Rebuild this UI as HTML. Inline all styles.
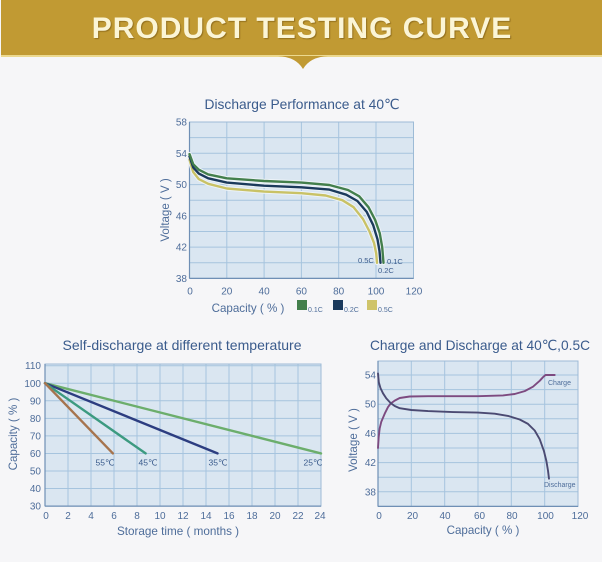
<!DOCTYPE html>
<html><head><meta charset="utf-8"><style>
html,body{margin:0;padding:0;background:#f6f6f8;}
svg{display:block;}
text{font-family:"Liberation Sans","DejaVu Sans",sans-serif;}
</style></head><body>
<svg width="602" height="562" viewBox="0 0 602 562" xmlns="http://www.w3.org/2000/svg">
<rect x="0" y="0" width="602" height="562" fill="#f6f6f8"/>
<!-- header -->
<rect x="1" y="0" width="601" height="56" fill="#c19a33"/>
<rect x="1" y="55" width="601" height="2" fill="#ecd98f"/>
<path d="M278,56 Q296,57 303,69 Q310,57 328,56 Z" fill="#c19a33"/>
<text x="302" y="38" text-anchor="middle" font-size="30" font-weight="bold" fill="#fbf5d6" letter-spacing="1" style="text-shadow:1px 1px 1px rgba(90,60,0,0.45)">PRODUCT TESTING CURVE</text>

<!-- ============ TOP CHART ============ -->
<text x="302" y="109" text-anchor="middle" font-size="14" fill="#3a5b8c" textLength="195" lengthAdjust="spacingAndGlyphs">Discharge Performance at 40℃</text>
<rect x="189.5" y="122" width="224" height="156.4" fill="#dae6f1"/>
<g stroke="#a6c4de" stroke-width="1">
<line x1="189.5" y1="137.6" x2="413.5" y2="137.6"/><line x1="189.5" y1="153.3" x2="413.5" y2="153.3"/>
<line x1="189.5" y1="168.9" x2="413.5" y2="168.9"/><line x1="189.5" y1="184.6" x2="413.5" y2="184.6"/>
<line x1="189.5" y1="200.2" x2="413.5" y2="200.2"/><line x1="189.5" y1="215.8" x2="413.5" y2="215.8"/>
<line x1="189.5" y1="231.5" x2="413.5" y2="231.5"/><line x1="189.5" y1="247.1" x2="413.5" y2="247.1"/>
<line x1="189.5" y1="262.8" x2="413.5" y2="262.8"/>
<line x1="226.8" y1="122" x2="226.8" y2="278.4"/><line x1="264.1" y1="122" x2="264.1" y2="278.4"/>
<line x1="301.4" y1="122" x2="301.4" y2="278.4"/><line x1="338.7" y1="122" x2="338.7" y2="278.4"/>
<line x1="376" y1="122" x2="376" y2="278.4"/>
</g>
<rect x="189.5" y="122" width="224" height="156.4" fill="none" stroke="#9dbbd6" stroke-width="1"/>
<line x1="189.5" y1="122" x2="189.5" y2="278.4" stroke="#6f8fb5" stroke-width="1.2"/>
<line x1="189.5" y1="278.4" x2="413.5" y2="278.4" stroke="#6f8fb5" stroke-width="1.2"/>
<g fill="none" stroke-width="4.4" stroke-linejoin="round" stroke-linecap="round" stroke="#edf3f8">
<polyline points="189.5,159.5 193.2,172 198.8,179.1 208.2,183.8 226.8,188.5 264.1,191.6 301.4,193.2 325.6,195.5 342.4,200.2 353.6,207.2 363,219 369.5,231.5 374.1,243.2 376.2,253.4 377,262.8"/>
<polyline points="189.5,156.4 193.2,167.4 198.8,173.6 208.2,178.3 226.8,182.6 264.1,185.7 301.4,187.3 329.4,189.6 346.2,194.7 357.4,201 366.7,211.9 373.2,225.2 377.5,239.3 379.5,251 380.5,262.8"/>
<polyline points="189.5,154.1 193.2,164.2 198.8,169.7 208.2,174.4 226.8,178.3 264.1,181 301.4,182.6 329.4,185 348,190 359.2,196.3 368.5,207.2 375.1,219.8 379.7,233 382.2,247.1 383.5,262.8"/>
</g>
<g fill="none" stroke-width="2.4" stroke-linejoin="round" stroke-linecap="round">
<polyline stroke="#c9c266" points="189.5,159.5 193.2,172 198.8,179.1 208.2,183.8 226.8,188.5 264.1,191.6 301.4,193.2 325.6,195.5 342.4,200.2 353.6,207.2 363,219 369.5,231.5 374.1,243.2 376.2,253.4 377,262.8"/>
<polyline stroke="#1b3a5c" points="189.5,156.4 193.2,167.4 198.8,173.6 208.2,178.3 226.8,182.6 264.1,185.7 301.4,187.3 329.4,189.6 346.2,194.7 357.4,201 366.7,211.9 373.2,225.2 377.5,239.3 379.5,251 380.5,262.8"/>
<polyline stroke="#437f4c" points="189.5,154.1 193.2,164.2 198.8,169.7 208.2,174.4 226.8,178.3 264.1,181 301.4,182.6 329.4,185 348,190 359.2,196.3 368.5,207.2 375.1,219.8 379.7,233 382.2,247.1 383.5,262.8"/>
</g>
<g font-size="10" fill="#4e6d9a" text-anchor="end">
<text x="187" y="125.5">58</text><text x="187" y="156.8">54</text><text x="187" y="188.1">50</text>
<text x="187" y="219.3">46</text><text x="187" y="250.6">42</text><text x="187" y="281.9">38</text>
</g>
<g font-size="10" fill="#4e6d9a" text-anchor="middle">
<text x="190" y="294.5">0</text><text x="226.8" y="294.5">20</text><text x="264.1" y="294.5">40</text>
<text x="301.4" y="294.5">60</text><text x="338.7" y="294.5">80</text><text x="376" y="294.5">100</text><text x="414" y="294.5">120</text>
</g>
<g font-size="7.5" fill="#3a5b8c">
<text x="358" y="263">0.5C</text><text x="387" y="264">0.1C</text><text x="378" y="273">0.2C</text>
</g>
<text transform="translate(169,210) rotate(-90)" text-anchor="middle" font-size="11.5" fill="#4e6d9a">Voltage ( V )</text>
<text x="248" y="312" text-anchor="middle" font-size="11.6" fill="#4e6d9a">Capacity ( % )</text>
<rect x="297" y="300" width="10" height="10" fill="#437f4c"/>
<text x="308" y="312" font-size="7" fill="#4e6d9a">0.1C</text>
<rect x="333" y="300" width="10" height="10" fill="#1b3a5c"/>
<text x="344" y="312" font-size="7" fill="#4e6d9a">0.2C</text>
<rect x="367" y="300" width="10" height="10" fill="#cfc46a"/>
<text x="378" y="312" font-size="7" fill="#4e6d9a">0.5C</text>

<!-- ============ BOTTOM LEFT ============ -->
<text x="182" y="350" text-anchor="middle" font-size="14" fill="#3a5b8c" textLength="239" lengthAdjust="spacingAndGlyphs">Self-discharge at different temperature</text>
<rect x="45" y="364" width="276" height="142.1" fill="#dae6f1"/>
<g stroke="#a6c4de" stroke-width="1">
<line x1="45" y1="365.7" x2="321" y2="365.7"/><line x1="45" y1="383.25" x2="321" y2="383.25"/>
<line x1="45" y1="400.8" x2="321" y2="400.8"/><line x1="45" y1="418.35" x2="321" y2="418.35"/>
<line x1="45" y1="435.9" x2="321" y2="435.9"/><line x1="45" y1="453.45" x2="321" y2="453.45"/>
<line x1="45" y1="471" x2="321" y2="471"/><line x1="45" y1="488.55" x2="321" y2="488.55"/>
<line x1="68" y1="364" x2="68" y2="506.1"/><line x1="91" y1="364" x2="91" y2="506.1"/>
<line x1="114" y1="364" x2="114" y2="506.1"/><line x1="137" y1="364" x2="137" y2="506.1"/>
<line x1="160" y1="364" x2="160" y2="506.1"/><line x1="183" y1="364" x2="183" y2="506.1"/>
<line x1="206" y1="364" x2="206" y2="506.1"/><line x1="229" y1="364" x2="229" y2="506.1"/>
<line x1="252" y1="364" x2="252" y2="506.1"/><line x1="275" y1="364" x2="275" y2="506.1"/>
<line x1="298" y1="364" x2="298" y2="506.1"/>
</g>
<rect x="45" y="364" width="276" height="142.1" fill="none" stroke="#9dbbd6" stroke-width="1"/>
<line x1="45" y1="364" x2="45" y2="506.1" stroke="#6f8fb5" stroke-width="1.2"/>
<line x1="45" y1="506.1" x2="321" y2="506.1" stroke="#6f8fb5" stroke-width="1.2"/>
<g stroke-width="2.4" stroke-linecap="round">
<line x1="45" y1="383.2" x2="321" y2="453.4" stroke="#6cae6c"/>
<line x1="45" y1="383.2" x2="217.5" y2="453.4" stroke="#2c3d80"/>
<line x1="45" y1="383.2" x2="145.6" y2="453.4" stroke="#3c9a80"/>
<line x1="45" y1="383.2" x2="112.9" y2="453.4" stroke="#a6744e"/>
</g>
<g font-size="8.5" fill="#3a5b8c" text-anchor="middle">
<text x="105" y="465.5">55℃</text><text x="148" y="465.5">45℃</text>
<text x="218" y="465.5">35℃</text><text x="313" y="465.5">25℃</text>
</g>
<g font-size="10" fill="#4e6d9a" text-anchor="end">
<text x="41" y="369.2">110</text><text x="41" y="386.8">100</text><text x="41" y="404.3">90</text>
<text x="41" y="421.9">80</text><text x="41" y="439.4">70</text><text x="41" y="457">60</text>
<text x="41" y="474.5">50</text><text x="41" y="492">40</text><text x="41" y="509.6">30</text>
</g>
<g font-size="10" fill="#4e6d9a" text-anchor="middle">
<text x="46" y="519">0</text><text x="68" y="519">2</text><text x="91" y="519">4</text>
<text x="114" y="519">6</text><text x="137" y="519">8</text><text x="160" y="519">10</text>
<text x="183" y="519">12</text><text x="206" y="519">14</text><text x="229" y="519">16</text>
<text x="252" y="519">18</text><text x="275" y="519">20</text><text x="298" y="519">22</text><text x="320" y="519">24</text>
</g>
<text transform="translate(17,434) rotate(-90)" text-anchor="middle" font-size="11.6" fill="#4e6d9a">Capacity ( % )</text>
<text x="178" y="535" text-anchor="middle" font-size="11.7" fill="#4e6d9a">Storage time ( months )</text>

<!-- ============ BOTTOM RIGHT ============ -->
<text x="480" y="350" text-anchor="middle" font-size="14" fill="#3a5b8c" textLength="220" lengthAdjust="spacingAndGlyphs">Charge and Discharge at 40℃,0.5C</text>
<rect x="378" y="361" width="200" height="145.4" fill="#dae6f1"/>
<g stroke="#a6c4de" stroke-width="1">
<line x1="378" y1="375" x2="578" y2="375"/><line x1="378" y1="389.6" x2="578" y2="389.6"/>
<line x1="378" y1="404.2" x2="578" y2="404.2"/><line x1="378" y1="418.8" x2="578" y2="418.8"/>
<line x1="378" y1="433.4" x2="578" y2="433.4"/><line x1="378" y1="448" x2="578" y2="448"/>
<line x1="378" y1="462.6" x2="578" y2="462.6"/><line x1="378" y1="477.2" x2="578" y2="477.2"/>
<line x1="378" y1="491.8" x2="578" y2="491.8"/>
<line x1="411.3" y1="361" x2="411.3" y2="506.4"/><line x1="444.7" y1="361" x2="444.7" y2="506.4"/>
<line x1="478" y1="361" x2="478" y2="506.4"/><line x1="511.3" y1="361" x2="511.3" y2="506.4"/>
<line x1="544.7" y1="361" x2="544.7" y2="506.4"/>
</g>
<rect x="378" y="361" width="200" height="145.4" fill="none" stroke="#9dbbd6" stroke-width="1"/>
<line x1="378" y1="361" x2="378" y2="506.4" stroke="#6f8fb5" stroke-width="1.2"/>
<line x1="378" y1="506.4" x2="578" y2="506.4" stroke="#6f8fb5" stroke-width="1.2"/>
<g fill="none" stroke-width="1.9" stroke-linejoin="round" stroke-linecap="round">
<polyline stroke="#7d4a80" points="378,448 378.7,437 379.7,428.3 381.3,421.7 384.7,413.7 388,407.1 390.7,403.5 394.7,400.6 399.7,398 409.7,396.5 428,396.2 478,396.2 503,395.4 514.7,394 524.7,391.1 533,386.7 539.7,380.8 543,377.2 545.5,375 554.7,375"/>
<polyline stroke="#4b4a72" points="378,373.5 378.8,382.3 380.5,388.1 383,393.3 386.3,398.4 390.7,403.1 394.7,406 399.7,408.2 411.3,410 428,411.1 453,412.1 478,412.6 494.7,413.7 508,415.9 519.7,419.5 528,423.9 534.7,430.5 539.7,439.2 543.9,450.9 546.4,461.1 548,470.6 549,478.7"/>
</g>
<g font-size="7" fill="#4e6d9a">
<text x="548" y="385">Charge</text><text x="544" y="487">Discharge</text>
</g>
<g font-size="10" fill="#4e6d9a" text-anchor="end">
<text x="376" y="378.5">54</text><text x="376" y="407.7">50</text><text x="376" y="436.9">46</text>
<text x="376" y="466.1">42</text><text x="376" y="495.3">38</text>
</g>
<g font-size="10" fill="#4e6d9a" text-anchor="middle">
<text x="379" y="519">0</text><text x="412.5" y="519">20</text><text x="445" y="519">40</text>
<text x="479.5" y="519">60</text><text x="512" y="519">80</text><text x="545.5" y="519">100</text><text x="580" y="519">120</text>
</g>
<text transform="translate(357,440) rotate(-90)" text-anchor="middle" font-size="11.6" fill="#4e6d9a">Voltage ( V )</text>
<text x="483" y="534" text-anchor="middle" font-size="11.6" fill="#4e6d9a">Capacity ( % )</text>
</svg>
</body></html>
